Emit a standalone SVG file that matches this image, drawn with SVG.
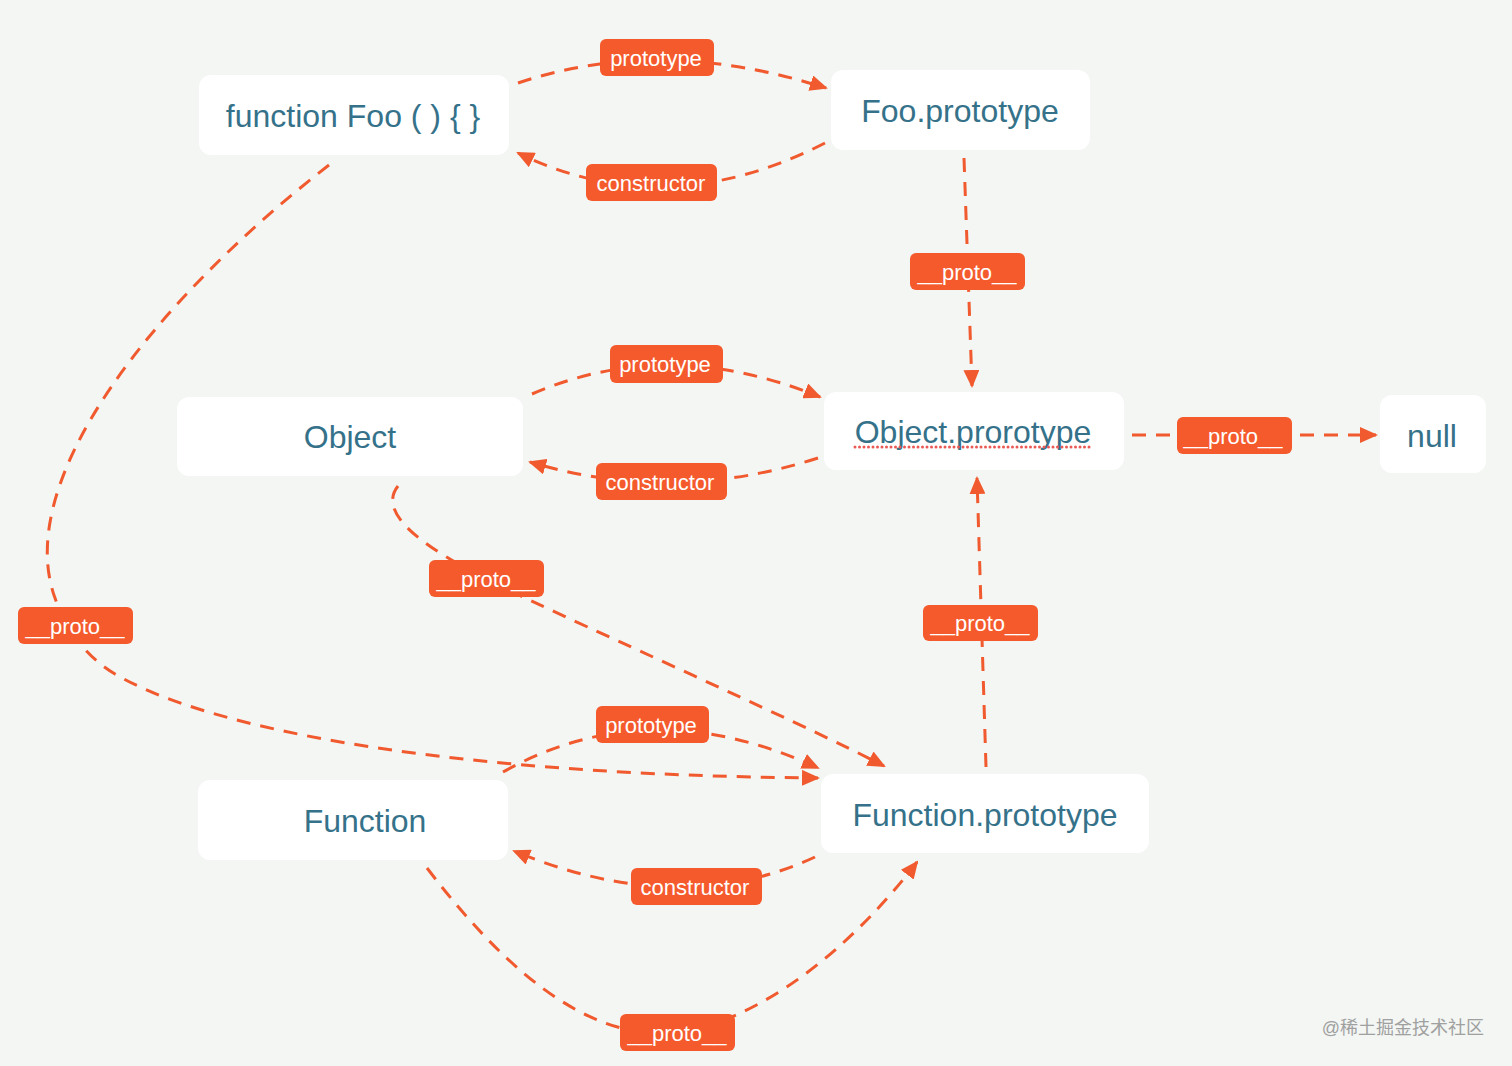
<svg xmlns="http://www.w3.org/2000/svg" width="1512" height="1066" viewBox="0 0 1512 1066">
<defs>
<style>
.node rect{fill:#ffffff;}
.node text{font-family:"Liberation Sans",Arial,sans-serif;font-size:32px;fill:#35728a;text-anchor:middle;dominant-baseline:central;}
.lbl rect{fill:#f55a2c;}
.lbl text{font-family:"Liberation Sans",Arial,sans-serif;font-size:22px;fill:#ffffff;text-anchor:middle;dominant-baseline:central;}
.conn path{fill:none;stroke:#f15a2e;stroke-width:3;stroke-dasharray:14 10;}
.arr{marker-end:url(#ah);}
</style>
<marker id="ah" markerUnits="userSpaceOnUse" markerWidth="18" markerHeight="16" viewBox="0 0 18 16" refX="16" refY="8" orient="auto">
<path d="M0,0 L18,8 L0,16 Z" fill="#f15a2e"/>
</marker>
</defs>
<rect width="1512" height="1066" fill="#f3f6f3"/>
<g id="connectors" class="conn">
<path class="arr" d="M518,83 Q660,35 826,88"/>
<path class="arr" d="M825,143 Q665,225 518,153"/>
<path class="arr" d="M964,158 L972,386"/>
<path class="arr" d="M532,394 Q668,335 820,397"/>
<path class="arr" d="M818,458 Q672,505 530,462"/>
<path class="arr" d="M1132,435 L1376,435"/>
<path class="arr" d="M398,486 C375,515 430,550 486,579 S800,722 884,766"/>
<path class="arr" d="M329,165 C155,300 12,480 55,598 C70,640 95,662 115,674 C210,730 450,775 818,778"/>
<path class="arr" d="M503,772 Q650,690 818,768"/>
<path class="arr" d="M815,857 Q680,920 514,851"/>
<path class="arr" d="M427,868 C520,990 600,1040 677,1033 C760,1020 850,950 917,862"/>
<path class="arr" d="M986,767 L977,478"/>
</g>
<g id="node-foo" class="node"><rect x="199" y="75" width="310" height="80" rx="12"/><text x="353" y="116">function Foo ( ) { }</text></g>
<g id="node-fooproto" class="node"><rect x="831" y="70" width="259" height="80" rx="12"/><text x="960" y="111">Foo.prototype</text></g>
<g id="node-object" class="node"><rect x="177" y="397" width="346" height="79" rx="12"/><text x="350" y="437">Object</text></g>
<g id="node-objproto" class="node"><rect x="824" y="392" width="300" height="78" rx="12"/><text x="973" y="432">Object.prorotype</text><line x1="855" y1="447" x2="1093" y2="447" stroke="#ea5a55" stroke-width="3" stroke-linecap="round" stroke-dasharray="0 4.5"/></g>
<g id="node-null" class="node"><rect x="1380" y="395" width="106" height="78" rx="12"/><text x="1432" y="436">null</text></g>
<g id="node-function" class="node"><rect x="198" y="780" width="310" height="80" rx="12"/><text x="365" y="821">Function</text></g>
<g id="node-funcproto" class="node"><rect x="821" y="774" width="328" height="79" rx="12"/><text x="985" y="815">Function.prototype</text></g>
<g id="labels" class="lbl">
<g><rect x="600" y="39" width="114" height="37" rx="6"/><text x="656" y="58">prototype</text></g>
<g><rect x="586" y="164" width="131" height="37" rx="6"/><text x="651" y="183">constructor</text></g>
<g><rect x="910" y="253" width="115" height="37" rx="6"/><text x="967" y="272">__proto__</text></g>
<g><rect x="610" y="345" width="113" height="38" rx="6"/><text x="665" y="364">prototype</text></g>
<g><rect x="596" y="463" width="131" height="37" rx="6"/><text x="660" y="482">constructor</text></g>
<g><rect x="1177" y="417" width="115" height="37" rx="6"/><text x="1233" y="436">__proto__</text></g>
<g><rect x="429" y="560" width="115" height="37" rx="6"/><text x="486" y="579">__proto__</text></g>
<g><rect x="18" y="607" width="115" height="37" rx="6"/><text x="75" y="626">__proto__</text></g>
<g><rect x="923" y="605" width="115" height="36" rx="6"/><text x="980" y="623">__proto__</text></g>
<g><rect x="596" y="706" width="113" height="37" rx="6"/><text x="651" y="725">prototype</text></g>
<g><rect x="631" y="868" width="131" height="37" rx="6"/><text x="695" y="887">constructor</text></g>
<g><rect x="620" y="1014" width="115" height="37" rx="6"/><text x="677" y="1033">__proto__</text></g>
</g>
<text x="1484" y="1034" text-anchor="end" font-family="'Liberation Sans','Noto Sans CJK SC',sans-serif" font-size="18" fill="#a0a0a0">@稀土掘金技术社区</text>
</svg>
